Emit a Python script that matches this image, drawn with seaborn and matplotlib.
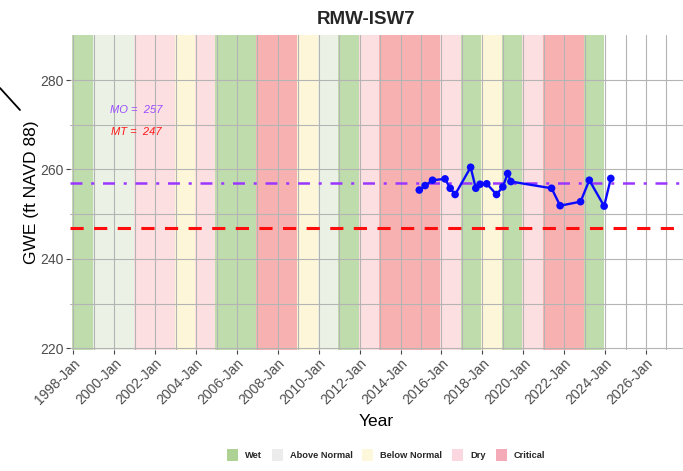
import matplotlib
matplotlib.use("Agg")
import matplotlib.pyplot as plt
import matplotlib.dates as mdates
from matplotlib.patches import Patch
from matplotlib.lines import Line2D
import seaborn as sns
import pandas as pd
from datetime import datetime

# ---- data -------------------------------------------------------------
well_name = "RMW-ISW7"
obs_dates = ["2014-12-01", "2015-03-15", "2015-07-25", "2016-03-05", "2016-06-05",
             "2016-09-01", "2017-06-05", "2017-09-05", "2017-11-20", "2018-03-20",
             "2018-09-10", "2019-01-01", "2019-03-28", "2019-05-25", "2021-05-20",
             "2021-10-20", "2022-10-20", "2023-03-25", "2023-12-15", "2024-04-12"]
gwe = [255.4, 256.4, 257.6, 257.9, 255.8, 254.4, 260.5, 255.8, 256.7, 256.8,
       254.4, 256.1, 259.1, 257.3, 255.8, 251.9, 252.8, 257.6, 251.8, 258.0]

mo_value = 257
mt_value = 247

wy_years = list(range(1998, 2024))
wy_types = ["Wet", "Above Normal", "Above Normal", "Dry", "Dry", "Below Normal", "Dry",
            "Wet", "Wet", "Critical", "Critical", "Below Normal", "Above Normal", "Wet",
            "Dry", "Critical", "Critical", "Critical", "Dry", "Wet", "Below Normal", "Wet",
            "Dry", "Critical", "Critical", "Wet"]

type_order = ["Wet", "Above Normal", "Below Normal", "Dry", "Critical"]
band_colors = {"Wet": "#bfdcac", "Above Normal": "#ebf2e5", "Below Normal": "#fdf6d9",
               "Dry": "#fcdfe1", "Critical": "#f7b1b1"}
key_colors = {"Wet": "#aed293", "Above Normal": "#ececec", "Below Normal": "#fdf8dc",
              "Dry": "#fbd8df", "Critical": "#f5aab8"}

df = pd.DataFrame({"date": pd.to_datetime(obs_dates), "gwe": gwe})

# ---- style ------------------------------------------------------------
sns.set_theme(style="white")
plt.rcParams["font.family"] = ["Liberation Sans", "DejaVu Sans"]
plt.rcParams["lines.scale_dashes"] = False

fig = plt.figure(figsize=(6.83, 4.71), dpi=100)
ax = fig.add_axes([70 / 683, 121 / 471, 613 / 683, 315 / 471])

# water-year type bands
for yr, wt in zip(wy_years, wy_types):
    ax.axvspan(datetime(yr - 1, 12, 13), datetime(yr, 12, 13),
               color=band_colors[wt], lw=0, zorder=0)

# reference levels
ax.axhline(mo_value, color="#9a36ff", lw=1.8, ls=(0, (8.6, 6.3, 2.2, 6.3)), zorder=2)
ax.axhline(mt_value, color="#ff0d0d", lw=2.2, ls=(0, (9.5, 7.5)), zorder=2)

# groundwater elevation series
sns.lineplot(data=df, x="date", y="gwe", color="#0a0aff", lw=1.7, ax=ax, zorder=3)
sns.scatterplot(data=df, x="date", y="gwe", color="#0a0aff", s=30, edgecolor="none",
                ax=ax, zorder=4)

ax.text(datetime(2001, 2, 1), 273.3, f"MO =  {mo_value}", color="#9a4dff",
        fontsize=8, style="italic", ha="center", va="center")
ax.text(datetime(2001, 2, 1), 268.4, f"MT =  {mt_value}", color="#ff1a1a",
        fontsize=8, style="italic", ha="center", va="center")

# axes
ax.set_xlim(datetime(1997, 11, 3), datetime(2027, 10, 23))
ax.set_ylim(219.6, 290.1)
ax.xaxis.set_major_locator(mdates.YearLocator(2))
ax.xaxis.set_minor_locator(mdates.YearLocator(1))
ax.xaxis.set_major_formatter(mdates.DateFormatter("%Y-%b"))
ax.set_yticks([220, 240, 260, 280])
ax.set_yticks([230, 250, 270], minor=True)

ax.set_axisbelow("line")
ax.grid(which="major", color="#b4b4b4", lw=0.8)
ax.grid(which="minor", color="#b4b4b4", lw=0.8)
for s in ax.spines.values():
    s.set_visible(False)

ax.tick_params(axis="both", which="major", length=3, width=0.8, color="#444444",
               labelsize=10, labelcolor="#4d4d4d", pad=1.5, bottom=True, left=True)
ax.tick_params(axis="both", which="minor", length=0)
for lab in ax.get_xticklabels():
    lab.set_rotation(45)
    lab.set_ha("right")
    lab.set_rotation_mode("anchor")

ax.set_xlabel("Year", fontsize=12.5, color="black", labelpad=5)
ax.set_ylabel("GWE (ft NAVD 88)", fontsize=12.5, color="black", labelpad=1)
ax.set_title(well_name, fontsize=13.5, fontweight="bold", pad=8, x=(366 - 70) / 613)

handles = [Patch(facecolor=key_colors[t], edgecolor="none", label=t) for t in type_order]
fig.legend(handles=handles, loc="center", bbox_to_anchor=(386 / 683, 1 - 455 / 471),
           ncol=5, frameon=False, prop={"size": 6.7, "weight": "bold"},
           handlelength=1.2, handleheight=1.5, handletextpad=0.75, columnspacing=1.05)

# stray pointer stroke at the upper-left edge
fig.add_artist(Line2D([0, 20 / 683], [1 - 88 / 471, 1 - 110 / 471],
                      color="black", lw=1.3))

fig.savefig("out.png", dpi=100)
